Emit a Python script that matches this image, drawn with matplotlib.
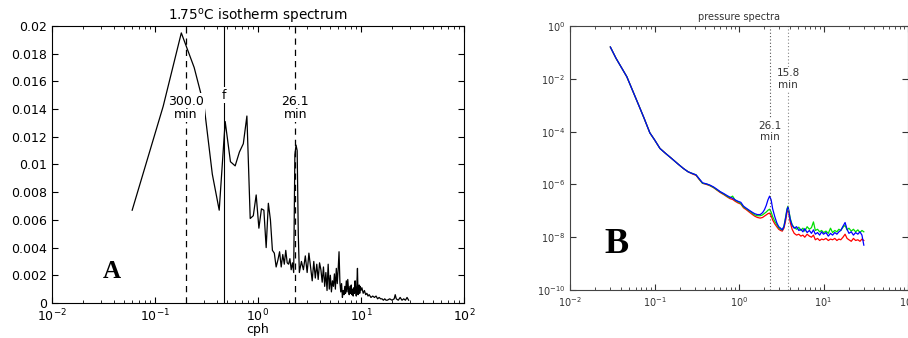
import numpy as np
import matplotlib
matplotlib.use("Agg")
import matplotlib.pyplot as plt
from matplotlib.ticker import LogLocator, FuncFormatter, NullFormatter, MultipleLocator, FixedLocator

# ---- panel A: 1.75 C isotherm spectrum (linear y, log x) ----
freq_a = [0.06, 0.12, 0.18, 0.24, 0.30, 0.36, 0.42, 0.48, 0.54, 0.60,
          0.66, 0.72, 0.78, 0.84, 0.90, 0.96, 1.02, 1.08, 1.14, 1.20,
          1.26, 1.32, 1.38, 1.44, 1.50, 1.56, 1.62, 1.68, 1.74, 1.80,
          1.86, 1.92, 1.98, 2.04, 2.10, 2.16, 2.22, 2.28, 2.34, 2.40,
          2.46, 2.52, 2.64, 2.76, 2.88, 3.00, 3.12, 3.24, 3.36, 3.48,
          3.60, 3.72, 3.84, 3.96, 4.08, 4.20, 4.32, 4.44, 4.56, 4.68,
          4.80, 4.92, 5.04, 5.16, 5.28, 5.40, 5.52, 5.64, 5.76, 5.88,
          6.00, 6.12, 6.24, 6.36, 6.48, 6.60, 6.72, 6.84, 6.96, 7.08,
          7.20, 7.32, 7.44, 7.56, 7.68, 7.80, 7.92, 8.04, 8.16, 8.28,
          8.40, 8.52, 8.64, 8.76, 8.88, 9.00, 9.12, 9.24, 9.36, 9.48,
          9.60, 9.72, 9.84, 9.96, 10.2, 10.5, 10.8, 11.1, 11.4, 11.7,
          12.0, 12.5, 13.0, 13.5, 14.0, 14.5, 15.0, 15.5, 16.0, 16.5,
          17.0, 17.5, 18.0, 19.0, 20.0, 21.0, 21.5, 22.0, 23.0, 24.0,
          25.0, 26.0, 27.0, 28.0, 29.0]
psd_a = [0.0067, 0.0142, 0.0195, 0.0170, 0.0142, 0.0093, 0.0067, 0.0131, 0.0102, 0.0099,
         0.0109, 0.0115, 0.0135, 0.0061, 0.0063, 0.0078, 0.0054, 0.0068, 0.0067, 0.0040,
         0.0072, 0.0060, 0.0038, 0.0036, 0.0026, 0.0031, 0.0037, 0.0026, 0.0035, 0.0028,
         0.0038, 0.0029, 0.0028, 0.0032, 0.0024, 0.0029, 0.0022, 0.0107, 0.0114, 0.0110,
         0.0050, 0.0022, 0.0030, 0.0024, 0.0034, 0.0022, 0.0036, 0.0026, 0.0016, 0.0030,
         0.0018, 0.0028, 0.0017, 0.0029, 0.0024, 0.0015, 0.0026, 0.0012, 0.0022, 0.0009,
         0.0028, 0.0010, 0.0020, 0.0008, 0.0016, 0.0012, 0.0021, 0.0010, 0.0025, 0.0014,
         0.0024, 0.0037, 0.0015, 0.0008, 0.0014, 0.0004, 0.0009, 0.0006, 0.0012, 0.0007,
         0.0016, 0.0008, 0.0017, 0.0010, 0.0006, 0.0012, 0.0007, 0.0013, 0.0006, 0.0010,
         0.0005, 0.0011, 0.0007, 0.0016, 0.0009, 0.0005, 0.0014, 0.0025, 0.0006, 0.0010,
         0.0013, 0.0007, 0.0012, 0.0009, 0.0011, 0.0007, 0.0009, 0.0006, 0.0007, 0.0005,
         0.0006, 0.0004, 0.0005, 0.0004, 0.0005, 0.0003, 0.0004, 0.0003, 0.0003, 0.0002,
         0.0003, 0.0002, 0.0002, 0.0003, 0.0002, 0.0003, 0.0006, 0.0003, 0.0002, 0.0004,
         0.0002, 0.0003, 0.0002, 0.0004, 0.0002]

# marker frequencies (cph)
f_300min = 60 / 300.0
f_inertial = 0.47
f_26min = 60 / 26.1
f_15min = 60 / 15.8

# ---- panel B: pressure spectra (log-log), three sensors ----
freq_b = [0.03, 0.035, 0.04, 0.047, 0.055, 0.065, 0.075, 0.088, 0.1, 0.116,
          0.135, 0.16, 0.19, 0.22, 0.25, 0.28, 0.31, 0.34, 0.37, 0.41,
          0.45, 0.5, 0.55, 0.6, 0.66, 0.72, 0.78, 0.84, 0.9, 0.97,
          1.05, 1.13, 1.22, 1.32, 1.42, 1.53, 1.65, 1.78, 1.9, 2.0,
          2.1, 2.2, 2.3, 2.4, 2.5, 2.65, 2.8, 2.95, 3.1, 3.25,
          3.4, 3.55, 3.7, 3.8, 3.9, 4.05, 4.25, 4.5, 4.8, 5.1,
          5.4, 5.7, 6.0, 6.4, 6.8, 7.2, 7.6, 8.0, 8.5, 9.0,
          9.5, 10, 10.7, 11.4, 12.1, 12.8, 13.6, 14.4, 15.2, 16,
          17, 18, 19, 20, 21.3, 22.6, 24, 25.5, 27, 28.5,
          30]
p_red = [1.6e-1, 6.0e-2, 2.9e-2, 1.2e-2, 3.6e-3, 1.0e-3, 3.3e-4, 9.0e-5, 4.9e-5, 2.3e-5,
         1.5e-5, 9.5e-6, 5.9e-6, 4.0e-6, 3.0e-6, 2.5e-6, 2.2e-6, 1.5e-6, 1.1e-6, 1.0e-6,
         9e-7, 7.5e-7, 6e-7, 4.9e-7, 4.1e-7, 3.4e-7, 2.9e-7, 2.7e-7, 2.3e-7, 2.0e-7,
         1.8e-7, 1.3e-7, 1.1e-7, 9e-8, 7.5e-8, 6.3e-8, 5.6e-8, 5.3e-8, 5.6e-8, 6.3e-8,
         7e-8, 7.8e-8, 8.2e-8, 6.5e-8, 4.5e-8, 3.2e-8, 2.5e-8, 2.0e-8, 1.8e-8, 1.7e-8,
         2.2e-8, 4e-8, 9e-8, 1.1e-7, 7e-8, 3.5e-8, 2.0e-8, 1.4e-8, 1.2e-8, 1.3e-8,
         1.1e-8, 1.2e-8, 1.0e-8, 1.3e-8, 1.1e-8, 1.0e-8, 1.2e-8, 8e-9, 9e-9, 7.5e-9,
         8.5e-9, 8e-9, 9e-9, 7.5e-9, 8.5e-9, 8e-9, 9e-9, 7.5e-9, 8.5e-9, 8e-9,
         1.0e-8, 1.3e-8, 9e-9, 8e-9, 7e-9, 9e-9, 7.5e-9, 8e-9, 7e-9, 8.5e-9,
         7.5e-9]
p_green = [1.6e-1, 6.0e-2, 2.9e-2, 1.2e-2, 3.6e-3, 1.0e-3, 3.3e-4, 9.0e-5, 4.9e-5, 2.3e-5,
           1.5e-5, 9.5e-6, 5.9e-6, 4.0e-6, 3.0e-6, 2.6e-6, 2.3e-6, 1.55e-6, 1.1e-6, 1.05e-6,
           9.2e-7, 7.7e-7, 6.2e-7, 5.2e-7, 4.3e-7, 3.6e-7, 3.1e-7, 3.6e-7, 2.5e-7, 2.2e-7,
           1.9e-7, 1.4e-7, 1.2e-7, 1.0e-7, 8.5e-8, 7e-8, 6.5e-8, 6.5e-8, 7e-8, 8e-8,
           9e-8, 1.05e-7, 1.15e-7, 9e-8, 6e-8, 4e-8, 3e-8, 2.3e-8, 2.0e-8, 1.9e-8,
           2.6e-8, 5.5e-8, 1.2e-7, 1.5e-7, 9.5e-8, 5e-8, 3e-8, 2.3e-8, 2.0e-8, 2.4e-8,
           1.8e-8, 2.2e-8, 1.7e-8, 2.5e-8, 2.0e-8, 2.3e-8, 3.8e-8, 1.8e-8, 2.0e-8, 1.6e-8,
           1.8e-8, 1.5e-8, 1.7e-8, 1.4e-8, 2.2e-8, 1.5e-8, 1.8e-8, 1.6e-8, 2.0e-8, 1.8e-8,
           2.4e-8, 2.8e-8, 1.9e-8, 2.2e-8, 1.7e-8, 2.0e-8, 1.6e-8, 1.9e-8, 1.5e-8, 1.8e-8,
           1.6e-8]
p_blue = [1.6e-1, 6.0e-2, 2.9e-2, 1.2e-2, 3.6e-3, 1.0e-3, 3.3e-4, 9.0e-5, 4.9e-5, 2.3e-5,
          1.5e-5, 9.5e-6, 5.9e-6, 4.0e-6, 3.0e-6, 2.6e-6, 2.3e-6, 1.6e-6, 1.15e-6, 1.05e-6,
          9.5e-7, 8e-7, 6.5e-7, 5.3e-7, 4.5e-7, 3.8e-7, 3.3e-7, 3.0e-7, 2.6e-7, 2.3e-7,
          2.1e-7, 1.5e-7, 1.25e-7, 1.05e-7, 9e-8, 7.8e-8, 7.2e-8, 7.2e-8, 8.5e-8, 1.1e-7,
          1.6e-7, 2.6e-7, 3.6e-7, 2.6e-7, 1.2e-7, 6e-8, 3.5e-8, 2.5e-8, 2.2e-8, 1.9e-8,
          2.5e-8, 5e-8, 1.1e-7, 1.4e-7, 9e-8, 4.5e-8, 2.8e-8, 2.2e-8, 2.5e-8, 1.8e-8,
          2.0e-8, 1.6e-8, 2.1e-8, 1.5e-8, 1.8e-8, 1.4e-8, 1.9e-8, 1.3e-8, 1.5e-8, 1.2e-8,
          1.6e-8, 1.3e-8, 1.5e-8, 1.1e-8, 1.4e-8, 1.2e-8, 1.5e-8, 1.3e-8, 1.6e-8, 1.8e-8,
          2.6e-8, 3.6e-8, 2.0e-8, 1.4e-8, 1.6e-8, 1.2e-8, 1.5e-8, 1.3e-8, 1.6e-8, 1.2e-8,
          5e-9]

plt.rcParams['font.family'] = 'DejaVu Sans'
fig = plt.figure(figsize=(9.08, 3.38), dpi=100)

# ----- panel A -----
axa = fig.add_axes([0.0573, 0.1036, 0.4537, 0.8195])
axa.plot(freq_a, psd_a, color='black', lw=0.9)
axa.set_xscale('log')
axa.set_xlim(1e-2, 1e2)
axa.set_ylim(0, 0.02)
axa.yaxis.set_major_locator(MultipleLocator(0.002))
axa.yaxis.set_major_formatter(FuncFormatter(lambda v, p: '%g' % round(v, 4)))
axa.xaxis.set_major_locator(LogLocator(base=10, numticks=10))
axa.xaxis.set_minor_locator(LogLocator(base=10, subs=np.arange(2, 10), numticks=20))
axa.xaxis.set_minor_formatter(NullFormatter())
axa.tick_params(which='both', direction='in', top=True, right=True, labelsize=9)
axa.tick_params(which='major', length=4)
axa.tick_params(which='minor', length=2)
axa.tick_params(axis='x', pad=3.5)
axa.set_xlabel('cph', fontsize=9, labelpad=-1)
axa.set_title('1.75$^{\\mathrm{o}}$C isotherm spectrum', fontsize=9.8, pad=4)

axa.axvline(f_300min, color='black', lw=0.9, ls=(0, (5, 4)))
axa.axvline(f_26min, color='black', lw=0.9, ls=(0, (5, 4)))
axa.axvline(f_inertial, color='black', lw=0.8)
box = dict(facecolor='white', edgecolor='none', pad=1)
axa.text(f_300min, 0.0141, '300.0\nmin', ha='center', va='center', fontsize=9,
         linespacing=1.0, bbox=box)
axa.text(f_26min, 0.0141, '26.1\nmin', ha='center', va='center', fontsize=9,
         linespacing=1.0, bbox=box)
axa.text(f_inertial, 0.0150, 'f', ha='center', va='center', fontsize=9, bbox=box)
axa.text(0.0383, 0.0023, 'A', fontsize=18, fontweight='bold', family='Liberation Serif',
         ha='center', va='center')

# ----- panel B -----
grey = '#333333'
axb = fig.add_axes([0.6278, 0.142, 0.3722, 0.781])
axb.plot(freq_b, p_red, color='#ff0000', lw=0.9)
axb.plot(freq_b, p_green, color='#00e000', lw=0.9)
axb.plot(freq_b, p_blue, color='#0000ff', lw=0.9)
axb.set_xscale('log')
axb.set_yscale('log')
axb.set_xlim(1e-2, 1e2)
axb.set_ylim(1e-10, 1)
axb.yaxis.set_major_locator(FixedLocator([1e-10, 1e-8, 1e-6, 1e-4, 1e-2, 1]))
axb.yaxis.set_minor_locator(FixedLocator([]))
axb.xaxis.set_major_locator(LogLocator(base=10, numticks=10))
axb.xaxis.set_minor_locator(LogLocator(base=10, subs=np.arange(2, 10), numticks=20))
axb.xaxis.set_minor_formatter(NullFormatter())
axb.tick_params(which='both', direction='in', top=True, right=True, labelsize=7,
                colors=grey)
axb.tick_params(which='major', length=4)
axb.tick_params(which='minor', length=2)
for s in axb.spines.values():
    s.set_color('#444444')
axb.set_title('pressure spectra', fontsize=7, color=grey, pad=4)

axb.axvline(f_26min, color='#555555', lw=0.8, ls=(0, (1, 2)))
axb.axvline(f_15min, color='#888888', lw=0.8, ls=(0, (1, 2)))
axb.text(f_26min, 1e-4, '26.1\nmin', ha='center', va='center', fontsize=7.5,
         color=grey, linespacing=1.2, bbox=box)
axb.text(f_15min, 1e-2, '15.8\nmin', ha='center', va='center', fontsize=7.5,
         color=grey, linespacing=1.2, bbox=box)
axb.text(0.035, 5.5e-9, 'B', fontsize=26, fontweight='bold', family='Liberation Serif',
         ha='center', va='center')

fig.savefig('out.png', dpi=100)
